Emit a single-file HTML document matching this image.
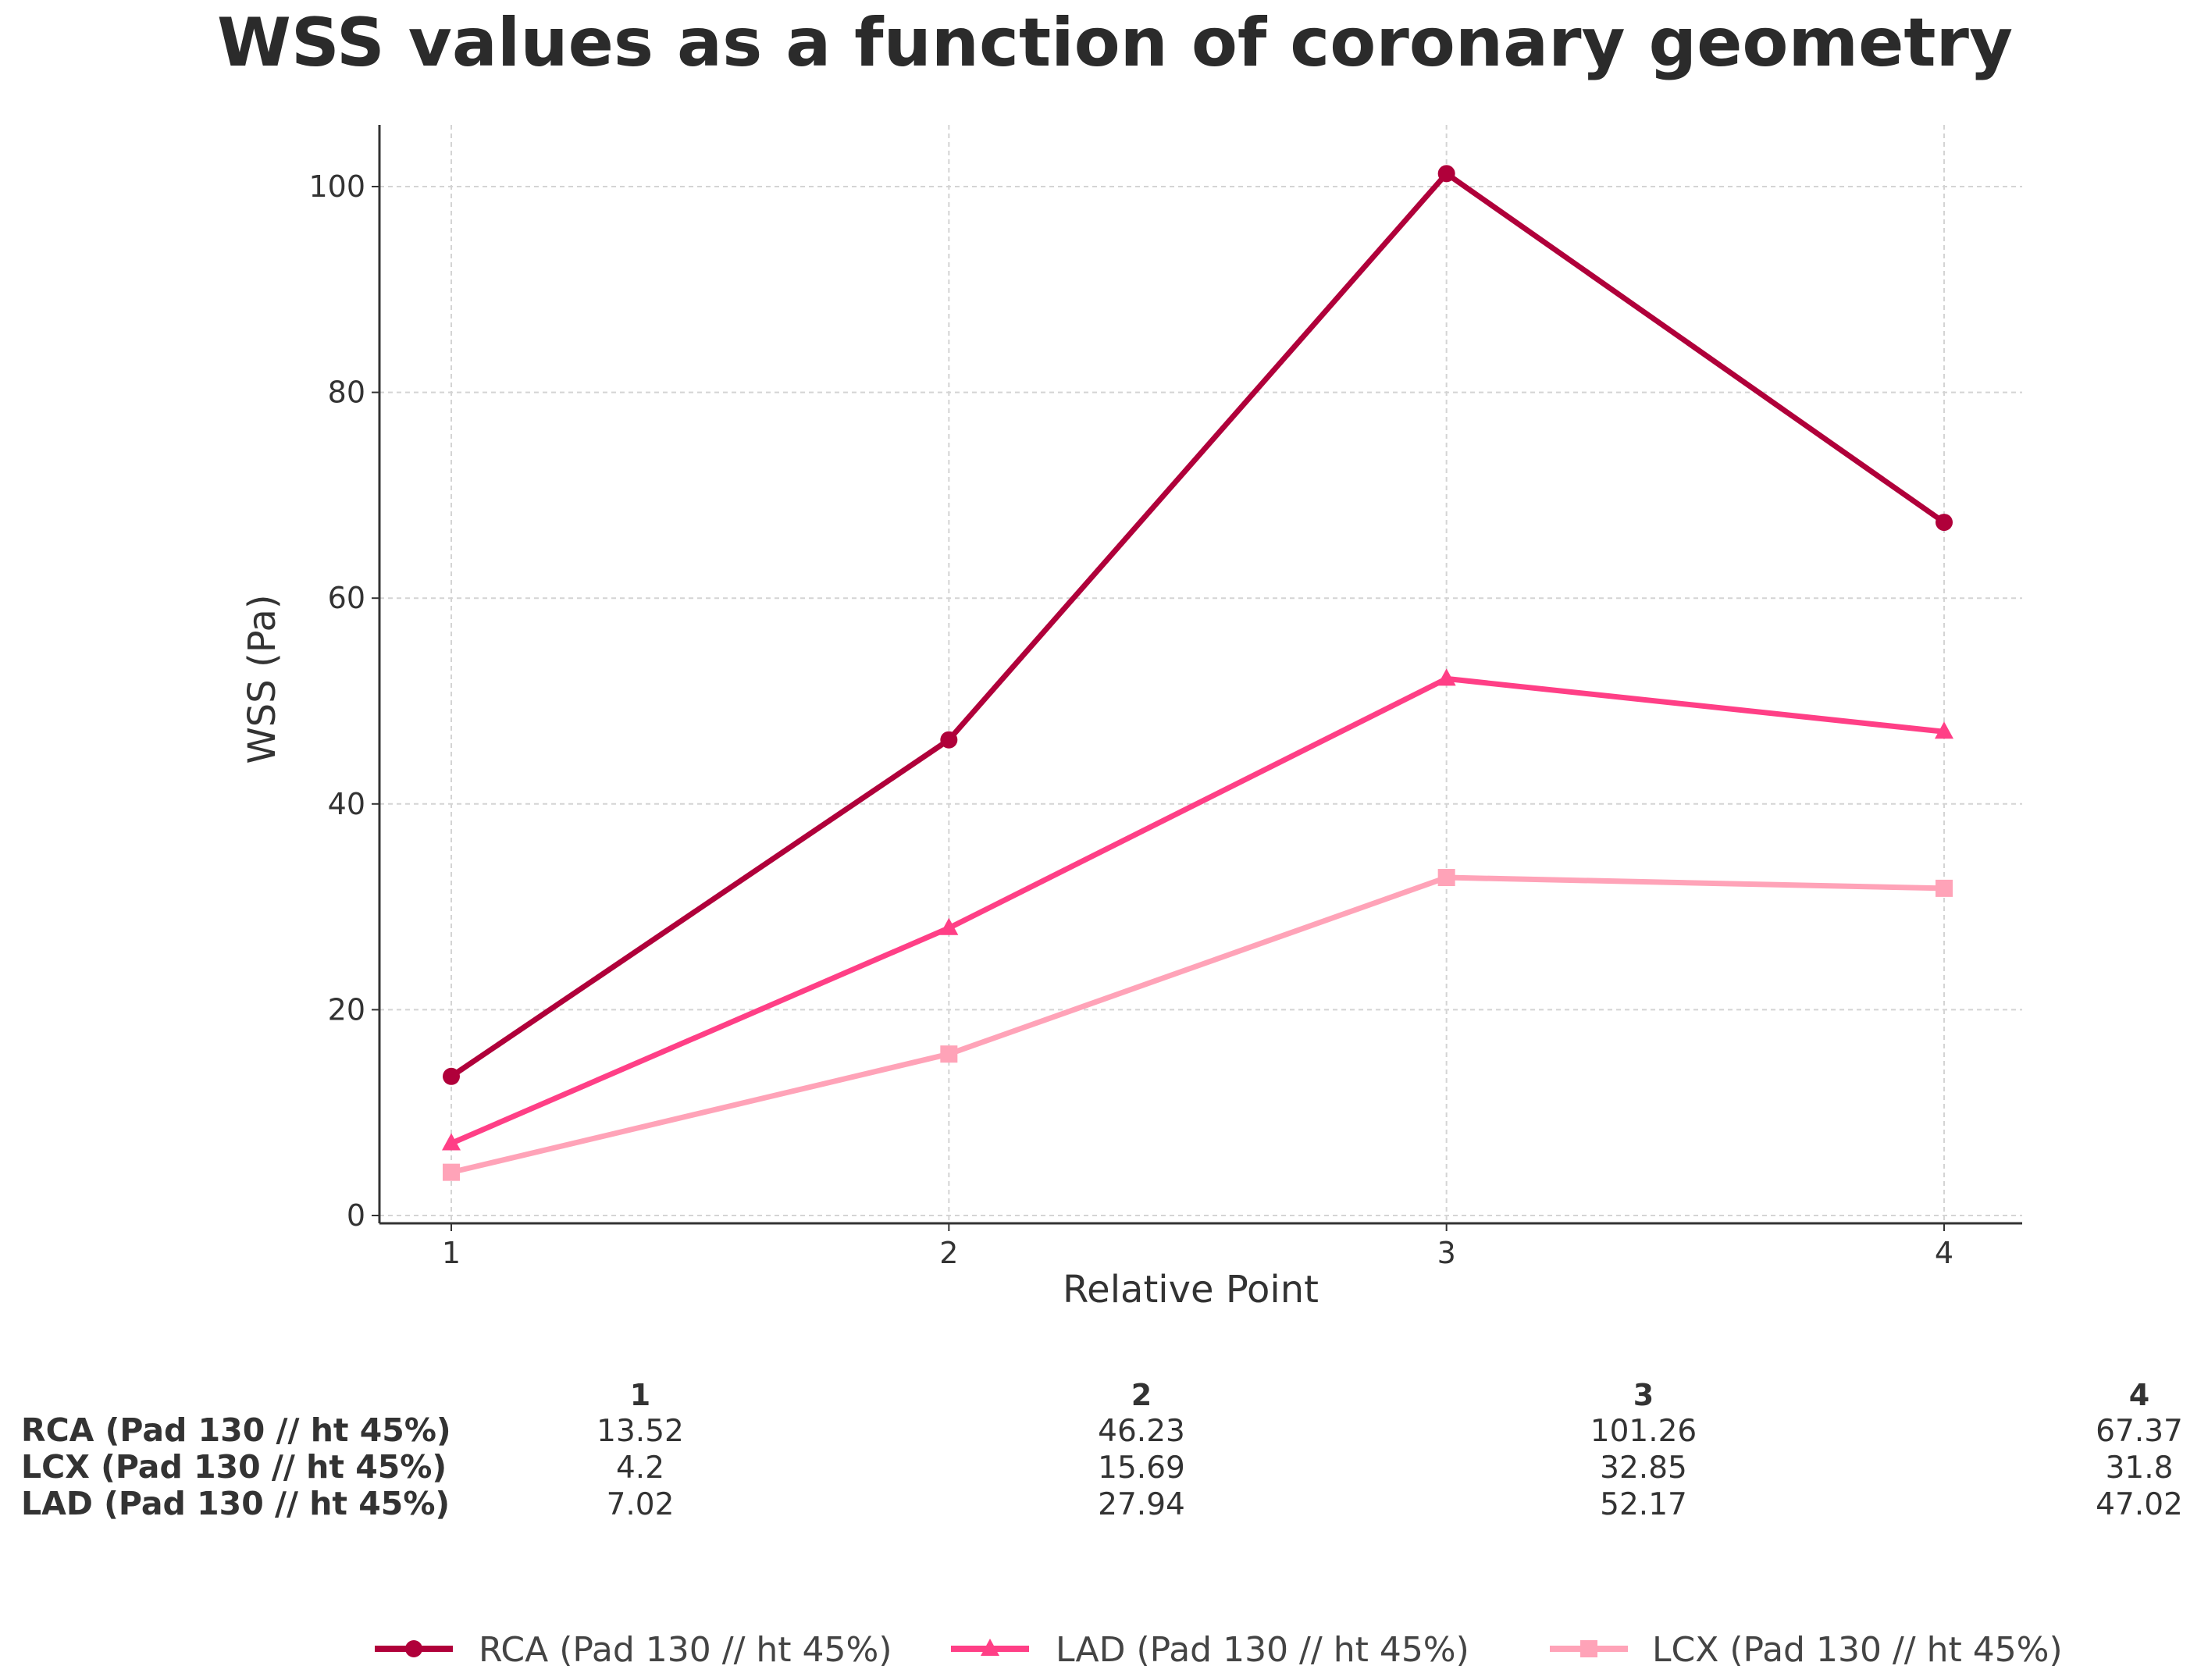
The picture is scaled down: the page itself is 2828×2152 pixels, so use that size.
<!DOCTYPE html>
<html><head><meta charset="utf-8">
<style>
html,body{margin:0;padding:0;background:#fff;}
svg{display:block;font-family:"DejaVu Sans","Liberation Sans",sans-serif;}
</style></head>
<body>
<svg id="chart" width="2828" height="2152" viewBox="0 0 2828 2152" xmlns="http://www.w3.org/2000/svg">
<text x="1428" y="84" text-anchor="middle" font-size="86" font-weight="bold" fill="#2b2b2b">WSS values as a function of coronary geometry</text>
<g id="grid"></g>
<g id="axes"></g>
<g id="series"></g>
<text x="1525" y="1668" text-anchor="middle" font-size="48" fill="#333">Relative Point</text>
<text transform="translate(352,870) rotate(-90)" text-anchor="middle" font-size="48" fill="#333">WSS (Pa)</text>
<g id="table"></g>
<g id="legend"></g>
</svg>
<script>
const categories = [1, 2, 3, 4];
const rcaValues = [13.52, 46.23, 101.26, 67.37];
const ladValues = [7.02, 27.94, 52.17, 47.02];
const lcxValues = [4.2, 15.69, 32.85, 31.8];
const yTicks = [0, 20, 40, 60, 80, 100];
const seriesNames = ["RCA (Pad 130 // ht 45%)", "LAD (Pad 130 // ht 45%)", "LCX (Pad 130 // ht 45%)"];

const NS = "http://www.w3.org/2000/svg";
const X0 = 578, X1 = 2490;
const Y0 = 1557, Y100 = 239;
function xScale(c){ return X0 + (c - 1) * (X1 - X0) / 3; }
function yScale(v){ return Y0 + v * (Y100 - Y0) / 100; }
function mk(tag, attrs, parent){
  const e = document.createElementNS(NS, tag);
  for (const k in attrs) e.setAttribute(k, attrs[k]);
  parent.appendChild(e); return e;
}
const grid = document.getElementById('grid');
const axes = document.getElementById('axes');
const L = 486, R = 2590, T = 160, B = 1567;
yTicks.forEach(t => {
  const y = yScale(t);
  const g = mk('line', {x1: L, x2: R, y1: y, y2: y, stroke: '#d4d4d4', 'stroke-width': 2, 'stroke-dasharray': '6,5'}, grid);
  
  
  const tx = mk('text', {x: 468, y: y + 13, 'text-anchor': 'end', 'font-size': 38, fill: '#333'}, axes);
  tx.textContent = t;
  
  
  mk('line', {x1: L - 10, x2: L, y1: y, y2: y, stroke: '#333', 'stroke-width': 2}, axes);
});
categories.forEach(c => {
  const x = xScale(c);
  const g = mk('line', {x1: x, x2: x, y1: T, y2: B, stroke: '#d4d4d4', 'stroke-width': 2, 'stroke-dasharray': '6,5'}, grid);
  
  
  const tx = mk('text', {x: x, y: 1618, 'text-anchor': 'middle', 'font-size': 38, fill: '#333'}, axes);
  tx.textContent = c;
  
  
  mk('line', {x1: x, x2: x, y1: B, y2: B + 10, stroke: '#333', 'stroke-width': 2}, axes);
});
const ax = mk('line', {x1: L, x2: L, y1: T, y2: B, stroke: '#333', 'stroke-width': 3}, axes);


const bx = mk('line', {x1: L, x2: R, y1: B, y2: B, stroke: '#333', 'stroke-width': 3}, axes);



const seriesG = document.getElementById('series');
const defs = [
  {vals: lcxValues, color: '#ffa3b8', marker: 'square', name: 'lcx'},
  {vals: ladValues, color: '#ff3f86', marker: 'triangle', name: 'lad'},
  {vals: rcaValues, color: '#b0003a', marker: 'circle', name: 'rca'}
];
function marker(type, x, y, color, parent){
  let m;
  if (type === 'circle') m = mk('circle', {cx: x, cy: y, r: 11, fill: color}, parent);
  else if (type === 'square') m = mk('rect', {x: x - 11, y: y - 11, width: 22, height: 22, fill: color}, parent);
  else m = mk('polygon', {points: `${x},${y-13} ${x+12},${y+9} ${x-12},${y+9}`, fill: color}, parent);
  return m;
}
defs.forEach(d => {
  const pts = d.vals.map((v, i) => xScale(categories[i]) + ',' + yScale(v)).join(' ');
  const pl = mk('polyline', {points: pts, fill: 'none', stroke: d.color, 'stroke-width': 7, 'stroke-linejoin': 'round'}, seriesG);
  
  
  d.vals.forEach((v, i) => {
    const m = marker(d.marker, xScale(categories[i]), yScale(v), d.color, seriesG);
    
    
  });
});

// table
const table = document.getElementById('table');
const colX = [820, 1462, 2105, 2740];
categories.forEach((c, i) => {
  const t = mk('text', {x: colX[i], y: 1800, 'text-anchor': 'middle', 'font-size': 38, 'font-weight': 'bold', fill: '#333'}, table);
  t.textContent = c;
  
  
});
const rows = [[seriesNames[0], rcaValues], [seriesNames[2], lcxValues], [seriesNames[1], ladValues]];
rows.forEach((r, ri) => {
  const y = 1846 + ri * 47;
  const lab = mk('text', {x: 27, y: y, 'font-size': 41, 'font-weight': 'bold', fill: '#333'}, table);
  lab.textContent = r[0];
  
  
  r[1].forEach((v, i) => {
    const t = mk('text', {x: colX[i], y: y, 'text-anchor': 'middle', 'font-size': 39, fill: '#333'}, table);
    t.textContent = v;
    
    
  });
});

// legend
const legend = document.getElementById('legend');
const legDefs = [
  {x: 480, tx: 613, color: '#b0003a', marker: 'circle', label: seriesNames[0]},
  {x: 1218, tx: 1352, color: '#ff3f86', marker: 'triangle', label: seriesNames[1]},
  {x: 1985, tx: 2116, color: '#ffa3b8', marker: 'square', label: seriesNames[2]}
];
legDefs.forEach(d => {
  const g = mk('g', {}, legend);
  
  
  mk('line', {x1: d.x, x2: d.x + 100, y1: 2112, y2: 2112, stroke: d.color, 'stroke-width': 8}, g);
  marker(d.marker, d.x + 50, 2112, d.color, g);
  const t = mk('text', {x: d.tx, y: 2128, 'font-size': 44, fill: '#444'}, g);
  t.textContent = d.label;
});
</script>
</body></html>
